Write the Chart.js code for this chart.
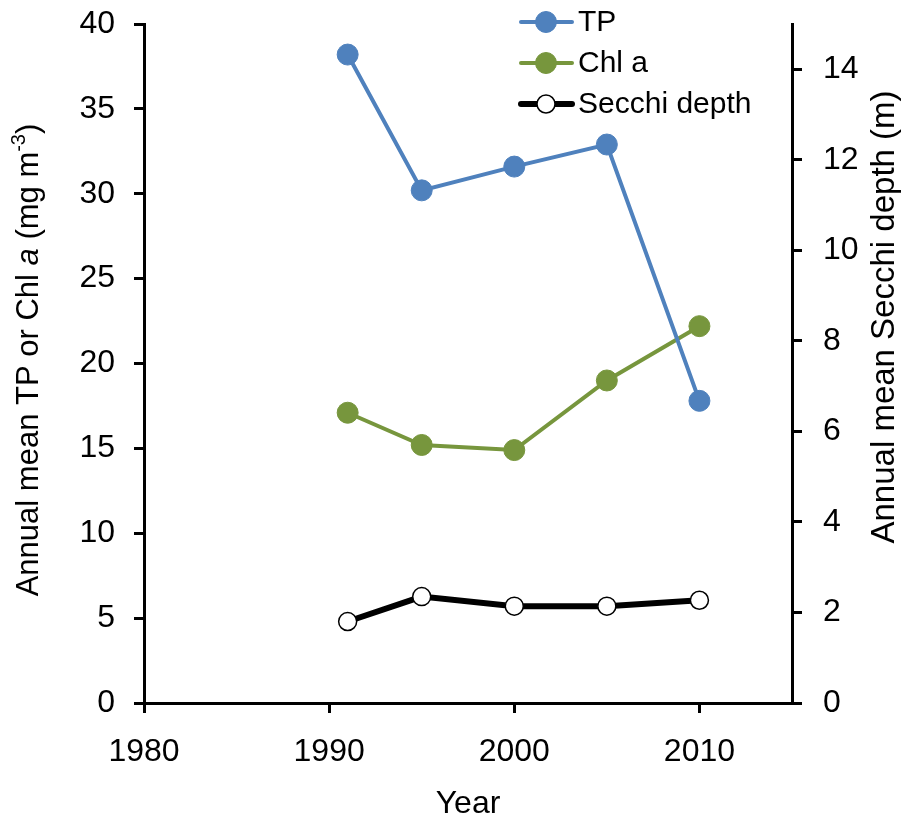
<!DOCTYPE html>
<html>
<head>
<meta charset="utf-8">
<script src="https://cdn.jsdelivr.net/npm/chart.js@4.4.0/dist/chart.umd.min.js"></script>
<style>
    html, body { margin: 0; padding: 0; background: #fff; }
    #wrap { width: 903px; height: 823px; }
</style>
</head>
<body>
<div id="wrap"><canvas id="chart" width="903" height="823"></canvas></div>
<script>
// Données
const years = [1991, 1995, 2000, 2005, 2010];
const tp = [38.2, 30.2, 31.6, 32.9, 17.8];
const chla = [17.1, 15.2, 14.9, 19.0, 22.2];
const secchi = [1.80, 2.35, 2.14, 2.14, 2.27];

const xTicks = [1980, 1990, 2000, 2010];
const leftTicks = [0, 5, 10, 15, 20, 25, 30, 35, 40];
const rightTicks = [0, 2, 4, 6, 8, 10, 12, 14];

const FONT = '"Liberation Sans", Arial, sans-serif';

function toPoints(values) {
    return years.map((y, i) => ({ x: y, y: values[i] }));
}

function axisStyle() {
    return {
        grid: { drawOnChartArea: false, drawTicks: true, tickLength: 10, color: '#000', lineWidth: 3 },
        border: { display: true, color: '#000', width: 3 }
    };
}

// largeur fixe des axes Y, sans marge ajoutée pour les libellés
function fixWidth(w) {
    return s => { s.width = w; s.paddingTop = 0; s.paddingBottom = 0; };
}

// Titres des axes Y et légende dessinés à la main
const extras = {
    id: 'extras',
    afterDraw(chart) {
        const ctx = chart.ctx;
        ctx.save();
        ctx.fillStyle = '#000';
        ctx.textBaseline = 'middle';

        // titre gauche avec italique et exposant
        const parts = [
            { t: 'Annual mean TP or Chl ', f: '31px ' + FONT, dy: 0 },
            { t: 'a', f: 'italic 31px ' + FONT, dy: 0 },
            { t: ' (mg m', f: '31px ' + FONT, dy: 0 },
            { t: '-3', f: '20px ' + FONT, dy: -10 },
            { t: ')', f: '31px ' + FONT, dy: 0 }
        ];
        let total = 0;
        parts.forEach(p => { ctx.font = p.f; p.w = ctx.measureText(p.t).width; total += p.w; });
        ctx.save();
        ctx.translate(29, 360);
        ctx.rotate(-Math.PI / 2);
        let px = -total / 2;
        ctx.textAlign = 'left';
        parts.forEach(p => { ctx.font = p.f; ctx.fillText(p.t, px, p.dy); px += p.w; });
        ctx.restore();

        // titre droit
        ctx.save();
        ctx.translate(885, 317);
        ctx.rotate(-Math.PI / 2);
        ctx.font = '33px ' + FONT;
        ctx.textAlign = 'center';
        ctx.fillText('Annual mean Secchi depth (m)', 0, 0);
        ctx.restore();

        // légende
        const rows = [22, 63, 104];
        chart.data.datasets.forEach((ds, i) => {
            const y = rows[i];
            ctx.strokeStyle = ds.borderColor;
            ctx.lineWidth = ds.borderWidth;
            ctx.lineCap = 'round';
            ctx.beginPath();
            ctx.moveTo(521, y);
            ctx.lineTo(572, y);
            ctx.stroke();
            ctx.beginPath();
            ctx.arc(546, y, ds.pointRadius, 0, Math.PI * 2);
            ctx.fillStyle = ds.pointBackgroundColor;
            ctx.fill();
            ctx.lineWidth = ds.pointBorderWidth;
            ctx.strokeStyle = ds.pointBorderColor;
            ctx.stroke();
            ctx.fillStyle = '#000';
            ctx.font = '30px ' + FONT;
            ctx.textAlign = 'left';
            ctx.fillText(ds.label, 578, y + 1);
        });
        ctx.restore();
    }
};

new Chart(document.getElementById('chart'), {
    type: 'line',
    data: {
        datasets: [
            {
                label: 'TP',
                data: toPoints(tp),
                yAxisID: 'y',
                borderColor: '#4f81bd',
                borderWidth: 4,
                pointRadius: 10.5,
                pointBackgroundColor: '#4f81bd',
                pointBorderColor: '#4f81bd',
                pointBorderWidth: 1,
                tension: 0
            },
            {
                label: 'Chl a',
                data: toPoints(chla),
                yAxisID: 'y',
                borderColor: '#77963d',
                borderWidth: 4,
                pointRadius: 10.5,
                pointBackgroundColor: '#77963d',
                pointBorderColor: '#77963d',
                pointBorderWidth: 1,
                tension: 0
            },
            {
                label: 'Secchi depth',
                data: toPoints(secchi),
                yAxisID: 'y1',
                borderColor: '#000',
                borderWidth: 6,
                pointRadius: 9,
                pointBackgroundColor: '#fff',
                pointBorderColor: '#000',
                pointBorderWidth: 1.5,
                tension: 0
            }
        ]
    },
    options: {
        responsive: false,
        animation: false,
        layout: { padding: { top: 24, left: 0, right: 0, bottom: 0 } },
        plugins: {
            legend: { display: false },
            tooltip: { enabled: false }
        },
        scales: {
            x: {
                type: 'linear',
                position: 'bottom',
                min: 1980,
                max: 2015,
                ...axisStyle(),
                afterBuildTicks: s => { s.ticks = xTicks.map(v => ({ value: v })); },
                afterFit: s => { s.height = 120; },
                ticks: {
                    color: '#000',
                    font: { family: FONT, size: 32 },
                    padding: 20,
                    maxRotation: 0,
                    callback: v => String(v)
                },
                title: {
                    display: true,
                    text: 'Year',
                    color: '#000',
                    font: { family: FONT, size: 32 },
                    padding: { top: 0, bottom: 0 }
                }
            },
            y: {
                type: 'linear',
                position: 'left',
                min: 0,
                max: 40,
                ...axisStyle(),
                afterBuildTicks: s => { s.ticks = leftTicks.map(v => ({ value: v })); },
                afterFit: fixWidth(144),
                ticks: {
                    color: '#000',
                    font: { family: FONT, size: 32 },
                    padding: 19,
                    callback: v => String(v)
                }
            },
            y1: {
                type: 'linear',
                position: 'right',
                min: 0,
                max: 15,
                ...axisStyle(),
                afterBuildTicks: s => { s.ticks = rightTicks.map(v => ({ value: v })); },
                afterFit: fixWidth(111),
                ticks: {
                    color: '#000',
                    font: { family: FONT, size: 32 },
                    padding: 21,
                    callback: v => String(v)
                }
            }
        }
    },
    plugins: [extras]
});
</script>
</body>
</html>
